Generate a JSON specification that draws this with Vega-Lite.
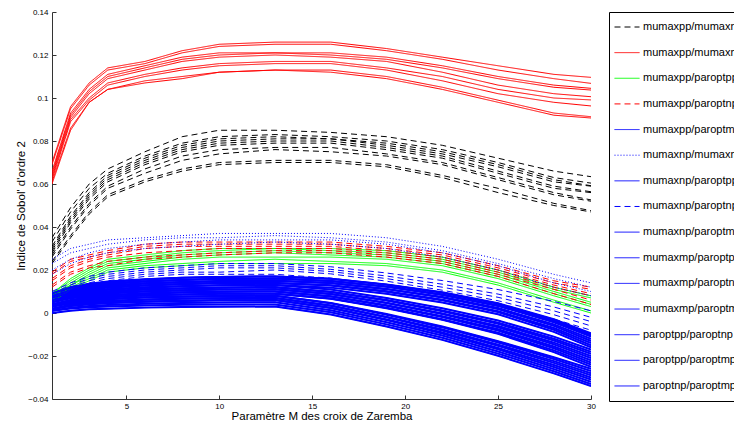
{
"$schema": "https://vega.github.io/schema/vega-lite/v6.json",
"autosize": "none",
"width": 539,
"height": 387,
"padding": {"left": 52, "top": 12, "right": 143, "bottom": 26},
"background": "white",
"config": {"view": {"stroke": null}, "font": "Liberation Sans"},
"datasets": {
"series": [
{"s":"k1","g":"mumaxpp/mumaxnp"},{"s":"k2","g":"mumaxpp/mumaxnp"},{"s":"k3","g":"mumaxpp/mumaxnp"},{"s":"k4","g":"mumaxpp/mumaxnp"},{"s":"k5","g":"mumaxpp/mumaxnp"},{"s":"k6","g":"mumaxpp/mumaxnp"},{"s":"k7","g":"mumaxpp/mumaxnp"},{"s":"k8","g":"mumaxpp/mumaxnp"},{"s":"k9","g":"mumaxpp/mumaxnp"},{"s":"k10","g":"mumaxpp/mumaxnp"},
{"s":"r1","g":"mumaxpp/mumaxmp"},{"s":"r2","g":"mumaxpp/mumaxmp"},{"s":"r3","g":"mumaxpp/mumaxmp"},{"s":"r4","g":"mumaxpp/mumaxmp"},{"s":"r5","g":"mumaxpp/mumaxmp"},{"s":"r6","g":"mumaxpp/mumaxmp"},{"s":"r7","g":"mumaxpp/mumaxmp"},{"s":"r8","g":"mumaxpp/mumaxmp"},{"s":"r9","g":"mumaxpp/mumaxmp"},
{"s":"g1","g":"mumaxpp/paroptpp"},{"s":"g2","g":"mumaxpp/paroptpp"},{"s":"g3","g":"mumaxpp/paroptpp"},{"s":"g4","g":"mumaxpp/paroptpp"},{"s":"g5","g":"mumaxpp/paroptpp"},{"s":"g6","g":"mumaxpp/paroptpp"},{"s":"g7","g":"mumaxpp/paroptpp"},
{"s":"d1","g":"mumaxpp/paroptnp"},{"s":"d2","g":"mumaxpp/paroptnp"},{"s":"d3","g":"mumaxpp/paroptnp"},{"s":"d4","g":"mumaxpp/paroptnp"},{"s":"d5","g":"mumaxpp/paroptnp"},{"s":"d6","g":"mumaxpp/paroptnp"},
{"s":"b4","g":"mumaxpp/paroptmp"},{"s":"b13","g":"mumaxpp/paroptmp"},{"s":"b22","g":"mumaxpp/paroptmp"},
{"s":"o1","g":"mumaxnp/mumaxmp"},{"s":"o2","g":"mumaxnp/mumaxmp"},{"s":"o3","g":"mumaxnp/mumaxmp"},{"s":"o4","g":"mumaxnp/mumaxmp"},
{"s":"b1","g":"mumaxnp/paroptpp"},{"s":"b10","g":"mumaxnp/paroptpp"},{"s":"b19","g":"mumaxnp/paroptpp"},
{"s":"e1","g":"mumaxnp/paroptnp"},{"s":"e2","g":"mumaxnp/paroptnp"},{"s":"e3","g":"mumaxnp/paroptnp"},{"s":"e4","g":"mumaxnp/paroptnp"},{"s":"e5","g":"mumaxnp/paroptnp"},
{"s":"b5","g":"mumaxnp/paroptmp"},{"s":"b14","g":"mumaxnp/paroptmp"},{"s":"b23","g":"mumaxnp/paroptmp"},
{"s":"b2","g":"mumaxmp/paroptpp"},{"s":"b11","g":"mumaxmp/paroptpp"},{"s":"b20","g":"mumaxmp/paroptpp"},
{"s":"b6","g":"mumaxmp/paroptnp"},{"s":"b15","g":"mumaxmp/paroptnp"},{"s":"b24","g":"mumaxmp/paroptnp"},
{"s":"b7","g":"mumaxmp/paroptmp"},{"s":"b16","g":"mumaxmp/paroptmp"},{"s":"b25","g":"mumaxmp/paroptmp"},
{"s":"b3","g":"paroptpp/paroptnp"},{"s":"b12","g":"paroptpp/paroptnp"},{"s":"b21","g":"paroptpp/paroptnp"},
{"s":"b8","g":"paroptpp/paroptmp"},{"s":"b17","g":"paroptpp/paroptmp"},{"s":"b26","g":"paroptpp/paroptmp"},
{"s":"b9","g":"paroptnp/paroptmp"},{"s":"b18","g":"paroptnp/paroptmp"},{"s":"b27","g":"paroptnp/paroptmp"}
],
"pts": [
{"s":"k1","x":1,"y":0.035},{"s":"k1","x":2,"y":0.049},{"s":"k1","x":3,"y":0.060},{"s":"k1","x":4,"y":0.067},{"s":"k1","x":6,"y":0.075},{"s":"k1","x":8,"y":0.082},{"s":"k1","x":10,"y":0.085},{"s":"k1","x":13,"y":0.085},{"s":"k1","x":16,"y":0.084},{"s":"k1","x":19,"y":0.082},{"s":"k1","x":22,"y":0.078},{"s":"k1","x":25,"y":0.072},{"s":"k1","x":28,"y":0.066},{"s":"k1","x":30,"y":0.0634},
{"s":"k2","x":1,"y":0.033},{"s":"k2","x":2,"y":0.047},{"s":"k2","x":3,"y":0.058},{"s":"k2","x":4,"y":0.065},{"s":"k2","x":6,"y":0.073},{"s":"k2","x":8,"y":0.079},{"s":"k2","x":10,"y":0.082},{"s":"k2","x":13,"y":0.083},{"s":"k2","x":16,"y":0.082},{"s":"k2","x":19,"y":0.080},{"s":"k2","x":22,"y":0.076},{"s":"k2","x":25,"y":0.070},{"s":"k2","x":28,"y":0.063},{"s":"k2","x":30,"y":0.0604},
{"s":"k3","x":1,"y":0.031},{"s":"k3","x":2,"y":0.045},{"s":"k3","x":3,"y":0.056},{"s":"k3","x":4,"y":0.064},{"s":"k3","x":6,"y":0.072},{"s":"k3","x":8,"y":0.078},{"s":"k3","x":10,"y":0.081},{"s":"k3","x":13,"y":0.082},{"s":"k3","x":16,"y":0.081},{"s":"k3","x":19,"y":0.079},{"s":"k3","x":22,"y":0.075},{"s":"k3","x":25,"y":0.069},{"s":"k3","x":28,"y":0.062},{"s":"k3","x":30,"y":0.0592},
{"s":"k4","x":1,"y":0.030},{"s":"k4","x":2,"y":0.044},{"s":"k4","x":3,"y":0.055},{"s":"k4","x":4,"y":0.063},{"s":"k4","x":6,"y":0.071},{"s":"k4","x":8,"y":0.077},{"s":"k4","x":10,"y":0.080},{"s":"k4","x":13,"y":0.081},{"s":"k4","x":16,"y":0.081},{"s":"k4","x":19,"y":0.078},{"s":"k4","x":22,"y":0.074},{"s":"k4","x":25,"y":0.068},{"s":"k4","x":28,"y":0.061},{"s":"k4","x":30,"y":0.059},
{"s":"k5","x":1,"y":0.029},{"s":"k5","x":2,"y":0.043},{"s":"k5","x":3,"y":0.054},{"s":"k5","x":4,"y":0.062},{"s":"k5","x":6,"y":0.070},{"s":"k5","x":8,"y":0.076},{"s":"k5","x":10,"y":0.079},{"s":"k5","x":13,"y":0.080},{"s":"k5","x":16,"y":0.080},{"s":"k5","x":19,"y":0.077},{"s":"k5","x":22,"y":0.073},{"s":"k5","x":25,"y":0.066},{"s":"k5","x":28,"y":0.059},{"s":"k5","x":30,"y":0.0564},
{"s":"k6","x":1,"y":0.028},{"s":"k6","x":2,"y":0.042},{"s":"k6","x":3,"y":0.053},{"s":"k6","x":4,"y":0.061},{"s":"k6","x":6,"y":0.069},{"s":"k6","x":8,"y":0.075},{"s":"k6","x":10,"y":0.078},{"s":"k6","x":13,"y":0.079},{"s":"k6","x":16,"y":0.079},{"s":"k6","x":19,"y":0.076},{"s":"k6","x":22,"y":0.072},{"s":"k6","x":25,"y":0.065},{"s":"k6","x":28,"y":0.058},{"s":"k6","x":30,"y":0.056},
{"s":"k7","x":1,"y":0.027},{"s":"k7","x":2,"y":0.040},{"s":"k7","x":3,"y":0.051},{"s":"k7","x":4,"y":0.059},{"s":"k7","x":6,"y":0.067},{"s":"k7","x":8,"y":0.073},{"s":"k7","x":10,"y":0.076},{"s":"k7","x":13,"y":0.077},{"s":"k7","x":16,"y":0.077},{"s":"k7","x":19,"y":0.074},{"s":"k7","x":22,"y":0.070},{"s":"k7","x":25,"y":0.063},{"s":"k7","x":28,"y":0.056},{"s":"k7","x":30,"y":0.0526},
{"s":"k8","x":1,"y":0.026},{"s":"k8","x":2,"y":0.039},{"s":"k8","x":3,"y":0.050},{"s":"k8","x":4,"y":0.058},{"s":"k8","x":6,"y":0.065},{"s":"k8","x":8,"y":0.071},{"s":"k8","x":10,"y":0.074},{"s":"k8","x":13,"y":0.076},{"s":"k8","x":16,"y":0.075},{"s":"k8","x":19,"y":0.073},{"s":"k8","x":22,"y":0.069},{"s":"k8","x":25,"y":0.062},{"s":"k8","x":28,"y":0.055},{"s":"k8","x":30,"y":0.052},
{"s":"k9","x":1,"y":0.024},{"s":"k9","x":2,"y":0.036},{"s":"k9","x":3,"y":0.047},{"s":"k9","x":4,"y":0.055},{"s":"k9","x":6,"y":0.062},{"s":"k9","x":8,"y":0.067},{"s":"k9","x":10,"y":0.070},{"s":"k9","x":13,"y":0.071},{"s":"k9","x":16,"y":0.071},{"s":"k9","x":19,"y":0.069},{"s":"k9","x":22,"y":0.064},{"s":"k9","x":25,"y":0.058},{"s":"k9","x":28,"y":0.051},{"s":"k9","x":30,"y":0.0476},
{"s":"k10","x":1,"y":0.023},{"s":"k10","x":2,"y":0.035},{"s":"k10","x":3,"y":0.046},{"s":"k10","x":4,"y":0.054},{"s":"k10","x":6,"y":0.061},{"s":"k10","x":8,"y":0.066},{"s":"k10","x":10,"y":0.069},{"s":"k10","x":13,"y":0.070},{"s":"k10","x":16,"y":0.070},{"s":"k10","x":19,"y":0.068},{"s":"k10","x":22,"y":0.063},{"s":"k10","x":25,"y":0.056},{"s":"k10","x":28,"y":0.050},{"s":"k10","x":30,"y":0.047},
{"s":"r1","x":1,"y":0.070},{"s":"r1","x":2,"y":0.096},{"s":"r1","x":3,"y":0.107},{"s":"r1","x":4,"y":0.114},{"s":"r1","x":6,"y":0.117},{"s":"r1","x":8,"y":0.122},{"s":"r1","x":10,"y":0.125},{"s":"r1","x":13,"y":0.126},{"s":"r1","x":16,"y":0.126},{"s":"r1","x":19,"y":0.123},{"s":"r1","x":22,"y":0.119},{"s":"r1","x":25,"y":0.115},{"s":"r1","x":28,"y":0.111},{"s":"r1","x":30,"y":0.1096},
{"s":"r2","x":1,"y":0.069},{"s":"r2","x":2,"y":0.095},{"s":"r2","x":3,"y":0.106},{"s":"r2","x":4,"y":0.113},{"s":"r2","x":6,"y":0.116},{"s":"r2","x":8,"y":0.121},{"s":"r2","x":10,"y":0.124},{"s":"r2","x":13,"y":0.125},{"s":"r2","x":16,"y":0.125},{"s":"r2","x":19,"y":0.122},{"s":"r2","x":22,"y":0.118},{"s":"r2","x":25,"y":0.113},{"s":"r2","x":28,"y":0.109},{"s":"r2","x":30,"y":0.1068},
{"s":"r3","x":1,"y":0.066},{"s":"r3","x":2,"y":0.093},{"s":"r3","x":3,"y":0.104},{"s":"r3","x":4,"y":0.111},{"s":"r3","x":6,"y":0.115},{"s":"r3","x":8,"y":0.119},{"s":"r3","x":10,"y":0.121},{"s":"r3","x":13,"y":0.121},{"s":"r3","x":16,"y":0.121},{"s":"r3","x":19,"y":0.119},{"s":"r3","x":22,"y":0.115},{"s":"r3","x":25,"y":0.110},{"s":"r3","x":28,"y":0.106},{"s":"r3","x":30,"y":0.1045},
{"s":"r4","x":1,"y":0.065},{"s":"r4","x":2,"y":0.092},{"s":"r4","x":3,"y":0.103},{"s":"r4","x":4,"y":0.110},{"s":"r4","x":6,"y":0.114},{"s":"r4","x":8,"y":0.118},{"s":"r4","x":10,"y":0.120},{"s":"r4","x":13,"y":0.121},{"s":"r4","x":16,"y":0.120},{"s":"r4","x":19,"y":0.118},{"s":"r4","x":22,"y":0.114},{"s":"r4","x":25,"y":0.109},{"s":"r4","x":28,"y":0.105},{"s":"r4","x":30,"y":0.1037},
{"s":"r5","x":1,"y":0.064},{"s":"r5","x":2,"y":0.091},{"s":"r5","x":3,"y":0.102},{"s":"r5","x":4,"y":0.109},{"s":"r5","x":6,"y":0.113},{"s":"r5","x":8,"y":0.117},{"s":"r5","x":10,"y":0.119},{"s":"r5","x":13,"y":0.120},{"s":"r5","x":16,"y":0.119},{"s":"r5","x":19,"y":0.117},{"s":"r5","x":22,"y":0.112},{"s":"r5","x":25,"y":0.106},{"s":"r5","x":28,"y":0.102},{"s":"r5","x":30,"y":0.1006},
{"s":"r6","x":1,"y":0.063},{"s":"r6","x":2,"y":0.090},{"s":"r6","x":3,"y":0.100},{"s":"r6","x":4,"y":0.107},{"s":"r6","x":6,"y":0.111},{"s":"r6","x":8,"y":0.114},{"s":"r6","x":10,"y":0.116},{"s":"r6","x":13,"y":0.117},{"s":"r6","x":16,"y":0.117},{"s":"r6","x":19,"y":0.114},{"s":"r6","x":22,"y":0.110},{"s":"r6","x":25,"y":0.104},{"s":"r6","x":28,"y":0.100},{"s":"r6","x":30,"y":0.0991},
{"s":"r7","x":1,"y":0.062},{"s":"r7","x":2,"y":0.089},{"s":"r7","x":3,"y":0.099},{"s":"r7","x":4,"y":0.106},{"s":"r7","x":6,"y":0.110},{"s":"r7","x":8,"y":0.113},{"s":"r7","x":10,"y":0.115},{"s":"r7","x":13,"y":0.116},{"s":"r7","x":16,"y":0.116},{"s":"r7","x":19,"y":0.113},{"s":"r7","x":22,"y":0.108},{"s":"r7","x":25,"y":0.102},{"s":"r7","x":28,"y":0.098},{"s":"r7","x":30,"y":0.0963},
{"s":"r8","x":1,"y":0.061},{"s":"r8","x":2,"y":0.086},{"s":"r8","x":3,"y":0.098},{"s":"r8","x":4,"y":0.104},{"s":"r8","x":6,"y":0.108},{"s":"r8","x":8,"y":0.110},{"s":"r8","x":10,"y":0.112},{"s":"r8","x":13,"y":0.113},{"s":"r8","x":16,"y":0.113},{"s":"r8","x":19,"y":0.110},{"s":"r8","x":22,"y":0.105},{"s":"r8","x":25,"y":0.099},{"s":"r8","x":28,"y":0.093},{"s":"r8","x":30,"y":0.0913},
{"s":"r9","x":1,"y":0.060},{"s":"r9","x":2,"y":0.085},{"s":"r9","x":3,"y":0.098},{"s":"r9","x":4,"y":0.104},{"s":"r9","x":6,"y":0.107},{"s":"r9","x":8,"y":0.109},{"s":"r9","x":10,"y":0.112},{"s":"r9","x":13,"y":0.113},{"s":"r9","x":16,"y":0.112},{"s":"r9","x":19,"y":0.109},{"s":"r9","x":22,"y":0.104},{"s":"r9","x":25,"y":0.098},{"s":"r9","x":28,"y":0.092},{"s":"r9","x":30,"y":0.0907},
{"s":"g1","x":1,"y":0.009},{"s":"g1","x":2,"y":0.016},{"s":"g1","x":3,"y":0.021},{"s":"g1","x":4,"y":0.025},{"s":"g1","x":6,"y":0.027},{"s":"g1","x":8,"y":0.029},{"s":"g1","x":10,"y":0.030},{"s":"g1","x":13,"y":0.030},{"s":"g1","x":16,"y":0.030},{"s":"g1","x":19,"y":0.029},{"s":"g1","x":22,"y":0.026},{"s":"g1","x":25,"y":0.020},{"s":"g1","x":28,"y":0.012},{"s":"g1","x":30,"y":0.008},
{"s":"g2","x":1,"y":0.009},{"s":"g2","x":2,"y":0.015},{"s":"g2","x":3,"y":0.020},{"s":"g2","x":4,"y":0.024},{"s":"g2","x":6,"y":0.026},{"s":"g2","x":8,"y":0.028},{"s":"g2","x":10,"y":0.029},{"s":"g2","x":13,"y":0.030},{"s":"g2","x":16,"y":0.029},{"s":"g2","x":19,"y":0.028},{"s":"g2","x":22,"y":0.025},{"s":"g2","x":25,"y":0.019},{"s":"g2","x":28,"y":0.011},{"s":"g2","x":30,"y":0.007},
{"s":"g3","x":1,"y":0.008},{"s":"g3","x":2,"y":0.014},{"s":"g3","x":3,"y":0.019},{"s":"g3","x":4,"y":0.023},{"s":"g3","x":6,"y":0.025},{"s":"g3","x":8,"y":0.027},{"s":"g3","x":10,"y":0.028},{"s":"g3","x":13,"y":0.029},{"s":"g3","x":16,"y":0.028},{"s":"g3","x":19,"y":0.027},{"s":"g3","x":22,"y":0.024},{"s":"g3","x":25,"y":0.018},{"s":"g3","x":28,"y":0.010},{"s":"g3","x":30,"y":0.005},
{"s":"g4","x":1,"y":0.008},{"s":"g4","x":2,"y":0.013},{"s":"g4","x":3,"y":0.018},{"s":"g4","x":4,"y":0.022},{"s":"g4","x":6,"y":0.024},{"s":"g4","x":8,"y":0.026},{"s":"g4","x":10,"y":0.027},{"s":"g4","x":13,"y":0.028},{"s":"g4","x":16,"y":0.027},{"s":"g4","x":19,"y":0.026},{"s":"g4","x":22,"y":0.023},{"s":"g4","x":25,"y":0.017},{"s":"g4","x":28,"y":0.009},{"s":"g4","x":30,"y":0.004},
{"s":"g5","x":1,"y":0.007},{"s":"g5","x":2,"y":0.013},{"s":"g5","x":3,"y":0.017},{"s":"g5","x":4,"y":0.021},{"s":"g5","x":6,"y":0.023},{"s":"g5","x":8,"y":0.025},{"s":"g5","x":10,"y":0.026},{"s":"g5","x":13,"y":0.026},{"s":"g5","x":16,"y":0.026},{"s":"g5","x":19,"y":0.025},{"s":"g5","x":22,"y":0.022},{"s":"g5","x":25,"y":0.016},{"s":"g5","x":28,"y":0.008},{"s":"g5","x":30,"y":0.003},
{"s":"g6","x":1,"y":0.006},{"s":"g6","x":2,"y":0.012},{"s":"g6","x":3,"y":0.016},{"s":"g6","x":4,"y":0.020},{"s":"g6","x":6,"y":0.022},{"s":"g6","x":8,"y":0.023},{"s":"g6","x":10,"y":0.024},{"s":"g6","x":13,"y":0.025},{"s":"g6","x":16,"y":0.024},{"s":"g6","x":19,"y":0.023},{"s":"g6","x":22,"y":0.020},{"s":"g6","x":25,"y":0.014},{"s":"g6","x":28,"y":0.006},{"s":"g6","x":30,"y":0.001},
{"s":"g7","x":1,"y":0.005},{"s":"g7","x":2,"y":0.011},{"s":"g7","x":3,"y":0.015},{"s":"g7","x":4,"y":0.019},{"s":"g7","x":6,"y":0.021},{"s":"g7","x":8,"y":0.022},{"s":"g7","x":10,"y":0.023},{"s":"g7","x":13,"y":0.023},{"s":"g7","x":16,"y":0.023},{"s":"g7","x":19,"y":0.022},{"s":"g7","x":22,"y":0.019},{"s":"g7","x":25,"y":0.013},{"s":"g7","x":28,"y":0.005},{"s":"g7","x":30,"y":0.000},
{"s":"d1","x":1,"y":0.019},{"s":"d1","x":2,"y":0.025},{"s":"d1","x":3,"y":0.027},{"s":"d1","x":4,"y":0.029},{"s":"d1","x":6,"y":0.032},{"s":"d1","x":8,"y":0.033},{"s":"d1","x":10,"y":0.033},{"s":"d1","x":13,"y":0.033},{"s":"d1","x":16,"y":0.033},{"s":"d1","x":19,"y":0.031},{"s":"d1","x":22,"y":0.028},{"s":"d1","x":25,"y":0.022},{"s":"d1","x":28,"y":0.015},{"s":"d1","x":30,"y":0.012},
{"s":"d2","x":1,"y":0.018},{"s":"d2","x":2,"y":0.024},{"s":"d2","x":3,"y":0.026},{"s":"d2","x":4,"y":0.028},{"s":"d2","x":6,"y":0.031},{"s":"d2","x":8,"y":0.032},{"s":"d2","x":10,"y":0.032},{"s":"d2","x":13,"y":0.032},{"s":"d2","x":16,"y":0.032},{"s":"d2","x":19,"y":0.030},{"s":"d2","x":22,"y":0.027},{"s":"d2","x":25,"y":0.021},{"s":"d2","x":28,"y":0.014},{"s":"d2","x":30,"y":0.011},
{"s":"d3","x":1,"y":0.016},{"s":"d3","x":2,"y":0.022},{"s":"d3","x":3,"y":0.025},{"s":"d3","x":4,"y":0.027},{"s":"d3","x":6,"y":0.030},{"s":"d3","x":8,"y":0.031},{"s":"d3","x":10,"y":0.031},{"s":"d3","x":13,"y":0.031},{"s":"d3","x":16,"y":0.031},{"s":"d3","x":19,"y":0.029},{"s":"d3","x":22,"y":0.026},{"s":"d3","x":25,"y":0.020},{"s":"d3","x":28,"y":0.013},{"s":"d3","x":30,"y":0.009},
{"s":"d4","x":1,"y":0.015},{"s":"d4","x":2,"y":0.021},{"s":"d4","x":3,"y":0.024},{"s":"d4","x":4,"y":0.026},{"s":"d4","x":6,"y":0.028},{"s":"d4","x":8,"y":0.029},{"s":"d4","x":10,"y":0.030},{"s":"d4","x":13,"y":0.030},{"s":"d4","x":16,"y":0.030},{"s":"d4","x":19,"y":0.028},{"s":"d4","x":22,"y":0.025},{"s":"d4","x":25,"y":0.019},{"s":"d4","x":28,"y":0.012},{"s":"d4","x":30,"y":0.008},
{"s":"d5","x":1,"y":0.013},{"s":"d5","x":2,"y":0.019},{"s":"d5","x":3,"y":0.022},{"s":"d5","x":4,"y":0.024},{"s":"d5","x":6,"y":0.026},{"s":"d5","x":8,"y":0.027},{"s":"d5","x":10,"y":0.028},{"s":"d5","x":13,"y":0.029},{"s":"d5","x":16,"y":0.029},{"s":"d5","x":19,"y":0.027},{"s":"d5","x":22,"y":0.024},{"s":"d5","x":25,"y":0.018},{"s":"d5","x":28,"y":0.011},{"s":"d5","x":30,"y":0.006},
{"s":"d6","x":1,"y":0.012},{"s":"d6","x":2,"y":0.018},{"s":"d6","x":3,"y":0.021},{"s":"d6","x":4,"y":0.022},{"s":"d6","x":6,"y":0.025},{"s":"d6","x":8,"y":0.026},{"s":"d6","x":10,"y":0.027},{"s":"d6","x":13,"y":0.028},{"s":"d6","x":16,"y":0.028},{"s":"d6","x":19,"y":0.026},{"s":"d6","x":22,"y":0.023},{"s":"d6","x":25,"y":0.017},{"s":"d6","x":28,"y":0.009},{"s":"d6","x":30,"y":0.004},
{"s":"b4","x":1,"y":0.002},{"s":"b4","x":2,"y":0.0034},{"s":"b4","x":3,"y":0.0042},{"s":"b4","x":4,"y":0.0047},{"s":"b4","x":6,"y":0.0053},{"s":"b4","x":8,"y":0.0057},{"s":"b4","x":10,"y":0.0059},{"s":"b4","x":13,"y":0.006},{"s":"b4","x":16,"y":0.0023},{"s":"b4","x":19,"y":-0.0033},{"s":"b4","x":22,"y":-0.0095},{"s":"b4","x":25,"y":-0.0169},{"s":"b4","x":28,"y":-0.0251},{"s":"b4","x":30,"y":-0.031},
{"s":"b13","x":1,"y":0.005},{"s":"b13","x":2,"y":0.0068},{"s":"b13","x":3,"y":0.0078},{"s":"b13","x":4,"y":0.0084},{"s":"b13","x":6,"y":0.0092},{"s":"b13","x":8,"y":0.0096},{"s":"b13","x":10,"y":0.0099},{"s":"b13","x":13,"y":0.010},{"s":"b13","x":16,"y":0.0078},{"s":"b13","x":19,"y":0.0036},{"s":"b13","x":22,"y":-0.0015},{"s":"b13","x":25,"y":-0.0076},{"s":"b13","x":28,"y":-0.0156},{"s":"b13","x":30,"y":-0.022},
{"s":"b22","x":1,"y":0.008},{"s":"b22","x":2,"y":0.0105},{"s":"b22","x":3,"y":0.0119},{"s":"b22","x":4,"y":0.0128},{"s":"b22","x":6,"y":0.0138},{"s":"b22","x":8,"y":0.0144},{"s":"b22","x":10,"y":0.0149},{"s":"b22","x":13,"y":0.015},{"s":"b22","x":16,"y":0.0139},{"s":"b22","x":19,"y":0.0111},{"s":"b22","x":22,"y":0.0072},{"s":"b22","x":25,"y":0.0018},{"s":"b22","x":28,"y":-0.006},{"s":"b22","x":30,"y":-0.013},
{"s":"o1","x":1,"y":0.025},{"s":"o1","x":2,"y":0.030},{"s":"o1","x":3,"y":0.032},{"s":"o1","x":4,"y":0.034},{"s":"o1","x":6,"y":0.035},{"s":"o1","x":8,"y":0.036},{"s":"o1","x":10,"y":0.037},{"s":"o1","x":13,"y":0.037},{"s":"o1","x":16,"y":0.037},{"s":"o1","x":19,"y":0.035},{"s":"o1","x":22,"y":0.031},{"s":"o1","x":25,"y":0.025},{"s":"o1","x":28,"y":0.018},{"s":"o1","x":30,"y":0.014},
{"s":"o2","x":1,"y":0.023},{"s":"o2","x":2,"y":0.028},{"s":"o2","x":3,"y":0.030},{"s":"o2","x":4,"y":0.032},{"s":"o2","x":6,"y":0.034},{"s":"o2","x":8,"y":0.035},{"s":"o2","x":10,"y":0.035},{"s":"o2","x":13,"y":0.036},{"s":"o2","x":16,"y":0.035},{"s":"o2","x":19,"y":0.033},{"s":"o2","x":22,"y":0.029},{"s":"o2","x":25,"y":0.023},{"s":"o2","x":28,"y":0.016},{"s":"o2","x":30,"y":0.012},
{"s":"o3","x":1,"y":0.020},{"s":"o3","x":2,"y":0.025},{"s":"o3","x":3,"y":0.028},{"s":"o3","x":4,"y":0.030},{"s":"o3","x":6,"y":0.032},{"s":"o3","x":8,"y":0.033},{"s":"o3","x":10,"y":0.034},{"s":"o3","x":13,"y":0.034},{"s":"o3","x":16,"y":0.034},{"s":"o3","x":19,"y":0.032},{"s":"o3","x":22,"y":0.028},{"s":"o3","x":25,"y":0.022},{"s":"o3","x":28,"y":0.014},{"s":"o3","x":30,"y":0.010},
{"s":"o4","x":1,"y":0.018},{"s":"o4","x":2,"y":0.023},{"s":"o4","x":3,"y":0.026},{"s":"o4","x":4,"y":0.028},{"s":"o4","x":6,"y":0.030},{"s":"o4","x":8,"y":0.031},{"s":"o4","x":10,"y":0.032},{"s":"o4","x":13,"y":0.033},{"s":"o4","x":16,"y":0.032},{"s":"o4","x":19,"y":0.030},{"s":"o4","x":22,"y":0.026},{"s":"o4","x":25,"y":0.020},{"s":"o4","x":28,"y":0.012},{"s":"o4","x":30,"y":0.008},
{"s":"b1","x":1,"y":0.0},{"s":"b1","x":2,"y":0.0011},{"s":"b1","x":3,"y":0.0017},{"s":"b1","x":4,"y":0.002},{"s":"b1","x":6,"y":0.0025},{"s":"b1","x":8,"y":0.0028},{"s":"b1","x":10,"y":0.0029},{"s":"b1","x":13,"y":0.003},{"s":"b1","x":16,"y":-0.0007},{"s":"b1","x":19,"y":-0.0063},{"s":"b1","x":22,"y":-0.0125},{"s":"b1","x":25,"y":-0.0199},{"s":"b1","x":28,"y":-0.0281},{"s":"b1","x":30,"y":-0.034},
{"s":"b10","x":1,"y":0.004},{"s":"b10","x":2,"y":0.0058},{"s":"b10","x":3,"y":0.0068},{"s":"b10","x":4,"y":0.0074},{"s":"b10","x":6,"y":0.0082},{"s":"b10","x":8,"y":0.0086},{"s":"b10","x":10,"y":0.0089},{"s":"b10","x":13,"y":0.009},{"s":"b10","x":16,"y":0.0066},{"s":"b10","x":19,"y":0.0022},{"s":"b10","x":22,"y":-0.0032},{"s":"b10","x":25,"y":-0.0097},{"s":"b10","x":28,"y":-0.0182},{"s":"b10","x":30,"y":-0.025},
{"s":"b19","x":1,"y":0.007},{"s":"b19","x":2,"y":0.0091},{"s":"b19","x":3,"y":0.0103},{"s":"b19","x":4,"y":0.0111},{"s":"b19","x":6,"y":0.012},{"s":"b19","x":8,"y":0.0125},{"s":"b19","x":10,"y":0.0129},{"s":"b19","x":13,"y":0.013},{"s":"b19","x":16,"y":0.0118},{"s":"b19","x":19,"y":0.0089},{"s":"b19","x":22,"y":0.0049},{"s":"b19","x":25,"y":-0.0006},{"s":"b19","x":28,"y":-0.0088},{"s":"b19","x":30,"y":-0.016},
{"s":"e1","x":1,"y":0.010},{"s":"e1","x":2,"y":0.014},{"s":"e1","x":3,"y":0.017},{"s":"e1","x":4,"y":0.019},{"s":"e1","x":6,"y":0.021},{"s":"e1","x":8,"y":0.022},{"s":"e1","x":10,"y":0.023},{"s":"e1","x":13,"y":0.023},{"s":"e1","x":16,"y":0.0215},{"s":"e1","x":19,"y":0.0186},{"s":"e1","x":22,"y":0.0151},{"s":"e1","x":25,"y":0.0109},{"s":"e1","x":28,"y":0.0054},{"s":"e1","x":30,"y":0.001},
{"s":"e2","x":1,"y":0.009},{"s":"e2","x":2,"y":0.013},{"s":"e2","x":3,"y":0.016},{"s":"e2","x":4,"y":0.018},{"s":"e2","x":6,"y":0.020},{"s":"e2","x":8,"y":0.021},{"s":"e2","x":10,"y":0.022},{"s":"e2","x":13,"y":0.022},{"s":"e2","x":16,"y":0.0203},{"s":"e2","x":19,"y":0.0172},{"s":"e2","x":22,"y":0.0134},{"s":"e2","x":25,"y":0.0088},{"s":"e2","x":28,"y":0.0028},{"s":"e2","x":30,"y":-0.002},
{"s":"e3","x":1,"y":0.008},{"s":"e3","x":2,"y":0.012},{"s":"e3","x":3,"y":0.015},{"s":"e3","x":4,"y":0.017},{"s":"e3","x":6,"y":0.019},{"s":"e3","x":8,"y":0.020},{"s":"e3","x":10,"y":0.021},{"s":"e3","x":13,"y":0.021},{"s":"e3","x":16,"y":0.0193},{"s":"e3","x":19,"y":0.016},{"s":"e3","x":22,"y":0.012},{"s":"e3","x":25,"y":0.0073},{"s":"e3","x":28,"y":0.001},{"s":"e3","x":30,"y":-0.004},
{"s":"e4","x":1,"y":0.007},{"s":"e4","x":2,"y":0.011},{"s":"e4","x":3,"y":0.014},{"s":"e4","x":4,"y":0.016},{"s":"e4","x":6,"y":0.018},{"s":"e4","x":8,"y":0.019},{"s":"e4","x":10,"y":0.019},{"s":"e4","x":13,"y":0.020},{"s":"e4","x":16,"y":0.0182},{"s":"e4","x":19,"y":0.0148},{"s":"e4","x":22,"y":0.0106},{"s":"e4","x":25,"y":0.0057},{"s":"e4","x":28,"y":-0.0008},{"s":"e4","x":30,"y":-0.006},
{"s":"e5","x":1,"y":0.006},{"s":"e5","x":2,"y":0.010},{"s":"e5","x":3,"y":0.013},{"s":"e5","x":4,"y":0.015},{"s":"e5","x":6,"y":0.017},{"s":"e5","x":8,"y":0.018},{"s":"e5","x":10,"y":0.018},{"s":"e5","x":13,"y":0.018},{"s":"e5","x":16,"y":0.0162},{"s":"e5","x":19,"y":0.0128},{"s":"e5","x":22,"y":0.0086},{"s":"e5","x":25,"y":0.0037},{"s":"e5","x":28,"y":-0.0028},{"s":"e5","x":30,"y":-0.008},
{"s":"b5","x":1,"y":0.0018},{"s":"b5","x":2,"y":0.0032},{"s":"b5","x":3,"y":0.0041},{"s":"b5","x":4,"y":0.0046},{"s":"b5","x":6,"y":0.0052},{"s":"b5","x":8,"y":0.0056},{"s":"b5","x":10,"y":0.0059},{"s":"b5","x":13,"y":0.006},{"s":"b5","x":16,"y":0.0024},{"s":"b5","x":19,"y":-0.003},{"s":"b5","x":22,"y":-0.0091},{"s":"b5","x":25,"y":-0.0163},{"s":"b5","x":28,"y":-0.0242},{"s":"b5","x":30,"y":-0.030},
{"s":"b14","x":1,"y":0.005},{"s":"b14","x":2,"y":0.0071},{"s":"b14","x":3,"y":0.0083},{"s":"b14","x":4,"y":0.0091},{"s":"b14","x":6,"y":0.010},{"s":"b14","x":8,"y":0.0105},{"s":"b14","x":10,"y":0.0109},{"s":"b14","x":13,"y":0.011},{"s":"b14","x":16,"y":0.0088},{"s":"b14","x":19,"y":0.0046},{"s":"b14","x":22,"y":-0.0005},{"s":"b14","x":25,"y":-0.0066},{"s":"b14","x":28,"y":-0.0146},{"s":"b14","x":30,"y":-0.021},
{"s":"b23","x":1,"y":0.0077},{"s":"b23","x":2,"y":0.0102},{"s":"b23","x":3,"y":0.0117},{"s":"b23","x":4,"y":0.0126},{"s":"b23","x":6,"y":0.0137},{"s":"b23","x":8,"y":0.0143},{"s":"b23","x":10,"y":0.0148},{"s":"b23","x":13,"y":0.015},{"s":"b23","x":16,"y":0.0139},{"s":"b23","x":19,"y":0.0112},{"s":"b23","x":22,"y":0.0074},{"s":"b23","x":25,"y":0.0023},{"s":"b23","x":28,"y":-0.0053},{"s":"b23","x":30,"y":-0.012},
{"s":"b2","x":1,"y":0.001},{"s":"b2","x":2,"y":0.0021},{"s":"b2","x":3,"y":0.0027},{"s":"b2","x":4,"y":0.003},{"s":"b2","x":6,"y":0.0035},{"s":"b2","x":8,"y":0.0038},{"s":"b2","x":10,"y":0.0039},{"s":"b2","x":13,"y":0.004},{"s":"b2","x":16,"y":0.0003},{"s":"b2","x":19,"y":-0.0053},{"s":"b2","x":22,"y":-0.0115},{"s":"b2","x":25,"y":-0.0189},{"s":"b2","x":28,"y":-0.0271},{"s":"b2","x":30,"y":-0.033},
{"s":"b11","x":1,"y":0.0037},{"s":"b11","x":2,"y":0.0055},{"s":"b11","x":3,"y":0.0066},{"s":"b11","x":4,"y":0.0073},{"s":"b11","x":6,"y":0.0081},{"s":"b11","x":8,"y":0.0086},{"s":"b11","x":10,"y":0.0089},{"s":"b11","x":13,"y":0.009},{"s":"b11","x":16,"y":0.0067},{"s":"b11","x":19,"y":0.0024},{"s":"b11","x":22,"y":-0.0029},{"s":"b11","x":25,"y":-0.0092},{"s":"b11","x":28,"y":-0.0174},{"s":"b11","x":30,"y":-0.024},
{"s":"b20","x":1,"y":0.007},{"s":"b20","x":2,"y":0.0095},{"s":"b20","x":3,"y":0.0109},{"s":"b20","x":4,"y":0.0118},{"s":"b20","x":6,"y":0.0128},{"s":"b20","x":8,"y":0.0134},{"s":"b20","x":10,"y":0.0139},{"s":"b20","x":13,"y":0.014},{"s":"b20","x":16,"y":0.0128},{"s":"b20","x":19,"y":0.0099},{"s":"b20","x":22,"y":0.0059},{"s":"b20","x":25,"y":0.0004},{"s":"b20","x":28,"y":-0.0078},{"s":"b20","x":30,"y":-0.015},
{"s":"b6","x":1,"y":0.002},{"s":"b6","x":2,"y":0.0038},{"s":"b6","x":3,"y":0.0048},{"s":"b6","x":4,"y":0.0054},{"s":"b6","x":6,"y":0.0062},{"s":"b6","x":8,"y":0.0066},{"s":"b6","x":10,"y":0.0069},{"s":"b6","x":13,"y":0.007},{"s":"b6","x":16,"y":0.0034},{"s":"b6","x":19,"y":-0.002},{"s":"b6","x":22,"y":-0.0081},{"s":"b6","x":25,"y":-0.0153},{"s":"b6","x":28,"y":-0.0232},{"s":"b6","x":30,"y":-0.029},
{"s":"b15","x":1,"y":0.0053},{"s":"b15","x":2,"y":0.0074},{"s":"b15","x":3,"y":0.0085},{"s":"b15","x":4,"y":0.0093},{"s":"b15","x":6,"y":0.0101},{"s":"b15","x":8,"y":0.0106},{"s":"b15","x":10,"y":0.0109},{"s":"b15","x":13,"y":0.011},{"s":"b15","x":16,"y":0.0088},{"s":"b15","x":19,"y":0.0048},{"s":"b15","x":22,"y":-0.0002},{"s":"b15","x":25,"y":-0.006},{"s":"b15","x":28,"y":-0.0138},{"s":"b15","x":30,"y":-0.020},
{"s":"b24","x":1,"y":0.008},{"s":"b24","x":2,"y":0.0108},{"s":"b24","x":3,"y":0.0124},{"s":"b24","x":4,"y":0.0134},{"s":"b24","x":6,"y":0.0146},{"s":"b24","x":8,"y":0.0154},{"s":"b24","x":10,"y":0.0158},{"s":"b24","x":13,"y":0.016},{"s":"b24","x":16,"y":0.0149},{"s":"b24","x":19,"y":0.0122},{"s":"b24","x":22,"y":0.0084},{"s":"b24","x":25,"y":0.0033},{"s":"b24","x":28,"y":-0.0043},{"s":"b24","x":30,"y":-0.011},
{"s":"b7","x":1,"y":0.003},{"s":"b7","x":2,"y":0.0044},{"s":"b7","x":3,"y":0.0052},{"s":"b7","x":4,"y":0.0057},{"s":"b7","x":6,"y":0.0063},{"s":"b7","x":8,"y":0.0067},{"s":"b7","x":10,"y":0.0069},{"s":"b7","x":13,"y":0.007},{"s":"b7","x":16,"y":0.0035},{"s":"b7","x":19,"y":-0.0018},{"s":"b7","x":22,"y":-0.0077},{"s":"b7","x":25,"y":-0.0147},{"s":"b7","x":28,"y":-0.0224},{"s":"b7","x":30,"y":-0.028},
{"s":"b16","x":1,"y":0.006},{"s":"b16","x":2,"y":0.0081},{"s":"b16","x":3,"y":0.0093},{"s":"b16","x":4,"y":0.0101},{"s":"b16","x":6,"y":0.011},{"s":"b16","x":8,"y":0.0115},{"s":"b16","x":10,"y":0.0119},{"s":"b16","x":13,"y":0.012},{"s":"b16","x":16,"y":0.0098},{"s":"b16","x":19,"y":0.0058},{"s":"b16","x":22,"y":0.0008},{"s":"b16","x":25,"y":-0.005},{"s":"b16","x":28,"y":-0.0128},{"s":"b16","x":30,"y":-0.019},
{"s":"b25","x":1,"y":0.009},{"s":"b25","x":2,"y":0.0115},{"s":"b25","x":3,"y":0.0129},{"s":"b25","x":4,"y":0.0138},{"s":"b25","x":6,"y":0.0148},{"s":"b25","x":8,"y":0.0154},{"s":"b25","x":10,"y":0.0159},{"s":"b25","x":13,"y":0.016},{"s":"b25","x":16,"y":0.0149},{"s":"b25","x":19,"y":0.0123},{"s":"b25","x":22,"y":0.0086},{"s":"b25","x":25,"y":0.0035},{"s":"b25","x":28,"y":-0.0039},{"s":"b25","x":30,"y":-0.0105},
{"s":"b3","x":1,"y":0.001},{"s":"b3","x":2,"y":0.0024},{"s":"b3","x":3,"y":0.0032},{"s":"b3","x":4,"y":0.0037},{"s":"b3","x":6,"y":0.0043},{"s":"b3","x":8,"y":0.0047},{"s":"b3","x":10,"y":0.0049},{"s":"b3","x":13,"y":0.005},{"s":"b3","x":16,"y":0.0013},{"s":"b3","x":19,"y":-0.0043},{"s":"b3","x":22,"y":-0.0105},{"s":"b3","x":25,"y":-0.0179},{"s":"b3","x":28,"y":-0.0261},{"s":"b3","x":30,"y":-0.032},
{"s":"b12","x":1,"y":0.004},{"s":"b12","x":2,"y":0.0061},{"s":"b12","x":3,"y":0.0073},{"s":"b12","x":4,"y":0.0081},{"s":"b12","x":6,"y":0.009},{"s":"b12","x":8,"y":0.0095},{"s":"b12","x":10,"y":0.0099},{"s":"b12","x":13,"y":0.010},{"s":"b12","x":16,"y":0.0077},{"s":"b12","x":19,"y":0.0034},{"s":"b12","x":22,"y":-0.0019},{"s":"b12","x":25,"y":-0.0082},{"s":"b12","x":28,"y":-0.0164},{"s":"b12","x":30,"y":-0.023},
{"s":"b21","x":1,"y":0.0073},{"s":"b21","x":2,"y":0.0098},{"s":"b21","x":3,"y":0.0111},{"s":"b21","x":4,"y":0.012},{"s":"b21","x":6,"y":0.0129},{"s":"b21","x":8,"y":0.0135},{"s":"b21","x":10,"y":0.0139},{"s":"b21","x":13,"y":0.014},{"s":"b21","x":16,"y":0.0129},{"s":"b21","x":19,"y":0.0101},{"s":"b21","x":22,"y":0.0062},{"s":"b21","x":25,"y":0.0008},{"s":"b21","x":28,"y":-0.007},{"s":"b21","x":30,"y":-0.014},
{"s":"b8","x":1,"y":0.003},{"s":"b8","x":2,"y":0.0048},{"s":"b8","x":3,"y":0.0058},{"s":"b8","x":4,"y":0.0064},{"s":"b8","x":6,"y":0.0072},{"s":"b8","x":8,"y":0.0076},{"s":"b8","x":10,"y":0.0079},{"s":"b8","x":13,"y":0.008},{"s":"b8","x":16,"y":0.0045},{"s":"b8","x":19,"y":-0.0008},{"s":"b8","x":22,"y":-0.0067},{"s":"b8","x":25,"y":-0.0137},{"s":"b8","x":28,"y":-0.0214},{"s":"b8","x":30,"y":-0.027},
{"s":"b17","x":1,"y":0.0057},{"s":"b17","x":2,"y":0.0078},{"s":"b17","x":3,"y":0.0091},{"s":"b17","x":4,"y":0.0099},{"s":"b17","x":6,"y":0.0109},{"s":"b17","x":8,"y":0.0114},{"s":"b17","x":10,"y":0.0118},{"s":"b17","x":13,"y":0.012},{"s":"b17","x":16,"y":0.0099},{"s":"b17","x":19,"y":0.006},{"s":"b17","x":22,"y":0.0012},{"s":"b17","x":25,"y":-0.0045},{"s":"b17","x":28,"y":-0.012},{"s":"b17","x":30,"y":-0.018},
{"s":"b26","x":1,"y":0.009},{"s":"b26","x":2,"y":0.0118},{"s":"b26","x":3,"y":0.0134},{"s":"b26","x":4,"y":0.0144},{"s":"b26","x":6,"y":0.0156},{"s":"b26","x":8,"y":0.0164},{"s":"b26","x":10,"y":0.0168},{"s":"b26","x":13,"y":0.017},{"s":"b26","x":16,"y":0.0159},{"s":"b26","x":19,"y":0.0132},{"s":"b26","x":22,"y":0.0094},{"s":"b26","x":25,"y":0.0043},{"s":"b26","x":28,"y":-0.0033},{"s":"b26","x":30,"y":-0.010},
{"s":"b9","x":1,"y":0.0033},{"s":"b9","x":2,"y":0.005},{"s":"b9","x":3,"y":0.006},{"s":"b9","x":4,"y":0.0066},{"s":"b9","x":6,"y":0.0073},{"s":"b9","x":8,"y":0.0077},{"s":"b9","x":10,"y":0.0079},{"s":"b9","x":13,"y":0.008},{"s":"b9","x":16,"y":0.0046},{"s":"b9","x":19,"y":-0.0005},{"s":"b9","x":22,"y":-0.0063},{"s":"b9","x":25,"y":-0.0131},{"s":"b9","x":28,"y":-0.0206},{"s":"b9","x":30,"y":-0.026},
{"s":"b18","x":1,"y":0.006},{"s":"b18","x":2,"y":0.0085},{"s":"b18","x":3,"y":0.0099},{"s":"b18","x":4,"y":0.0108},{"s":"b18","x":6,"y":0.0118},{"s":"b18","x":8,"y":0.0124},{"s":"b18","x":10,"y":0.0129},{"s":"b18","x":13,"y":0.013},{"s":"b18","x":16,"y":0.0109},{"s":"b18","x":19,"y":0.007},{"s":"b18","x":22,"y":0.0022},{"s":"b18","x":25,"y":-0.0035},{"s":"b18","x":28,"y":-0.011},{"s":"b18","x":30,"y":-0.017},
{"s":"b27","x":1,"y":0.0093},{"s":"b27","x":2,"y":0.0121},{"s":"b27","x":3,"y":0.0136},{"s":"b27","x":4,"y":0.0146},{"s":"b27","x":6,"y":0.0157},{"s":"b27","x":8,"y":0.0164},{"s":"b27","x":10,"y":0.0168},{"s":"b27","x":13,"y":0.017},{"s":"b27","x":16,"y":0.0159},{"s":"b27","x":19,"y":0.0133},{"s":"b27","x":22,"y":0.0096},{"s":"b27","x":25,"y":0.0045},{"s":"b27","x":28,"y":-0.0029},{"s":"b27","x":30,"y":-0.0095}
]
},
"data": {"name": "pts"},
"transform": [
{"lookup": "s", "from": {"data": {"name": "series"}, "key": "s", "fields": ["g"]}}
],
"encoding": {
"x": {"field": "x", "type": "quantitative",
 "scale": {"domain": [1, 30], "nice": false, "zero": false},
 "axis": {"title": "Paramètre M des croix de Zaremba", "values": [5, 10, 15, 20, 25, 30], "grid": false, "tickSize": -4, "labelPadding": 7, "labelFlush": false, "labelFontSize": 8, "labelFont": "Liberation Sans", "labelColor": "black", "titleFont": "Liberation Sans", "titleFontSize": 11.5, "titleFontWeight": "normal", "titleColor": "black", "titlePadding": 0, "domainColor": "#333333", "tickColor": "#333333"}},
"y": {"field": "y", "type": "quantitative",
 "scale": {"domain": [-0.04, 0.14], "nice": false, "zero": false},
 "axis": {"title": "Indice de Sobol' d'ordre 2", "values": [-0.04, -0.02, 0, 0.02, 0.04, 0.06, 0.08, 0.1, 0.12, 0.14], "format": "~g", "grid": false, "tickSize": -4, "labelPadding": 8, "labelFontSize": 8, "labelFont": "Liberation Sans", "labelColor": "black", "titleFont": "Liberation Sans", "titleFontSize": 11.5, "titleFontWeight": "normal", "titleColor": "black", "titlePadding": 1, "domainColor": "#333333", "tickColor": "#333333"}},
"detail": {"field": "s"}
},
"layer": [
{
"transform": [{"filter": {"field": "g", "oneOf": ["mumaxpp/paroptmp","mumaxnp/paroptpp","mumaxnp/paroptmp","mumaxmp/paroptpp","mumaxmp/paroptnp","mumaxmp/paroptmp","paroptpp/paroptnp","paroptpp/paroptmp","paroptnp/paroptmp"]}}],
"mark": {"type": "line", "clip": true, "strokeWidth": 2, "color": "#0000ff"}
},
{
"mark": {"type": "line", "clip": true, "strokeWidth": 1},
"encoding": {
"color": {"field": "g", "type": "nominal",
 "scale": {"domain": ["mumaxpp/mumaxnp","mumaxpp/mumaxmp","mumaxpp/paroptpp","mumaxpp/paroptnp","mumaxpp/paroptmp","mumaxnp/mumaxmp","mumaxnp/paroptpp","mumaxnp/paroptnp","mumaxnp/paroptmp","mumaxmp/paroptpp","mumaxmp/paroptnp","mumaxmp/paroptmp","paroptpp/paroptnp","paroptpp/paroptmp","paroptnp/paroptmp"],
  "range": ["#000000","#ff0000","#00ff00","#ff0000","#0000ff","#0000ff","#0000ff","#0000ff","#0000ff","#0000ff","#0000ff","#0000ff","#0000ff","#0000ff","#0000ff"]},
 "legend": {"title": null, "orient": "none", "legendX": 557, "legendY": 0, "strokeColor": "black", "fillColor": "white", "padding": 5, "symbolType": "stroke", "symbolSize": 625, "symbolStrokeWidth": 1, "clipHeight": 20, "rowPadding": 5.64, "labelFontSize": 11, "labelFont": "Liberation Sans", "labelColor": "black", "labelOffset": 3, "labelLimit": 300}},
"strokeDash": {"field": "g", "type": "nominal",
 "scale": {"domain": ["mumaxpp/mumaxnp","mumaxpp/mumaxmp","mumaxpp/paroptpp","mumaxpp/paroptnp","mumaxpp/paroptmp","mumaxnp/mumaxmp","mumaxnp/paroptpp","mumaxnp/paroptnp","mumaxnp/paroptmp","mumaxmp/paroptpp","mumaxmp/paroptnp","mumaxmp/paroptmp","paroptpp/paroptnp","paroptpp/paroptmp","paroptnp/paroptmp"],
  "range": [[6,4],[1,0],[1,0],[6,4],[1,0],[1,2],[1,0],[6,4],[1,0],[1,0],[1,0],[1,0],[1,0],[1,0],[1,0]]},
 "legend": {"title": null, "orient": "none", "legendX": 557, "legendY": 0, "strokeColor": "black", "fillColor": "white", "padding": 5, "symbolType": "stroke", "symbolSize": 625, "symbolStrokeWidth": 1, "clipHeight": 20, "rowPadding": 5.64, "labelFontSize": 11, "labelFont": "Liberation Sans", "labelColor": "black", "labelOffset": 3, "labelLimit": 300}}
}
}
]
}
